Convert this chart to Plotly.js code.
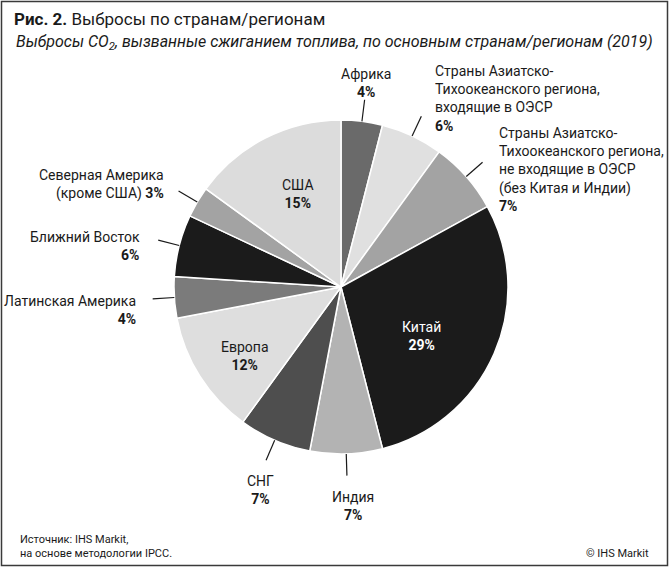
<!DOCTYPE html>
<html>
<head>
<meta charset="utf-8">
<script src="https://cdn.plot.ly/plotly-3.0.1.min.js"></script>
<style>
  html, body { margin: 0; padding: 0; background: #fff; }
  #chart { width: 670px; height: 568px; }
</style>
</head>
<body>
<div id="chart"></div>
<script>
// ---- data ----
const regions = [
  "Африка",
  "Страны Азиатско-Тихоокеанского региона, входящие в ОЭСР",
  "Страны Азиатско-Тихоокеанского региона, не входящие в ОЭСР (без Китая и Индии)",
  "Китай",
  "Индия",
  "СНГ",
  "Европа",
  "Латинская Америка",
  "Ближний Восток",
  "Северная Америка (кроме США)",
  "США"
];
const shares = [4, 6, 7, 29, 7, 7, 12, 4, 6, 3, 15];
const labelTexts = [
  "Африка",
  "Страны Азиатско-<br>Тихоокеанского региона,<br>входящие в ОЭСР",
  "Страны Азиатско-<br>Тихоокеанского региона,<br>не входящие в ОЭСР<br>(без Китая и Индии)",
  "Китай",
  "Индия",
  "СНГ",
  "Европа",
  "Латинская Америка",
  "Ближний Восток",
  "Северная Америка<br>(кроме США)",
  "США"
];
const sliceColors = ["#6a6a6a", "#e0e0e0", "#a3a3a3", "#1b1b1b", "#b3b3b3", "#4e4e4e",
                     "#dedede", "#7b7b7b", "#1b1b1b", "#a3a3a3", "#dcdcdc"];

// ---- layout config (positions in px, not data) ----
const W = 670, H = 568;
const CX = 341, CY = 287, R = 167;
// label block: [x, yCenter, xanchor, pct on same line, text color, leader line]
const labelCfg = [
  {x: 366, y: 83,  xa: "center", sameLine: false, color: "#1a1a1a", leader: true},
  {x: 433, y: 98,  xa: "left",   sameLine: false, color: "#1a1a1a", leader: true},
  {x: 497, y: 170, xa: "left",   sameLine: false, color: "#1a1a1a", leader: true},
  {x: 422, y: 336, xa: "center", sameLine: false, color: "#ffffff", leader: false},
  {x: 353, y: 506, xa: "center", sameLine: false, color: "#1a1a1a", leader: true},
  {x: 260, y: 490, xa: "center", sameLine: false, color: "#1a1a1a", leader: true},
  {x: 245, y: 356, xa: "center", sameLine: false, color: "#1a1a1a", leader: false},
  {x: 138, y: 310, xa: "right",  sameLine: false, color: "#1a1a1a", leader: true},
  {x: 142, y: 246, xa: "right",  sameLine: false, color: "#1a1a1a", leader: true},
  {x: 166, y: 184, xa: "right",  sameLine: true,  color: "#1a1a1a", leader: true},
  {x: 298, y: 194, xa: "center", sameLine: false, color: "#1a1a1a", leader: false}
];

const FONT = "Roboto, 'Liberation Sans', Arial, sans-serif";
const px2x = v => v / W;
const px2y = v => 1 - v / H;

const annotations = [];
const shapes = [];

const total = shares.reduce((a, b) => a + b, 0);
let cum = 0;
shares.forEach((v, i) => {
  const mid = (cum + v / 2) / total * 2 * Math.PI;
  cum += v;
  const c = labelCfg[i];
  const pct = "<b>" + v + "%</b>";
  const text = labelTexts[i] + (c.sameLine ? " " : "<br>") + pct;
  annotations.push({
    xref: "paper", yref: "paper",
    x: px2x(c.x), y: px2y(c.y),
    xanchor: c.xa, yanchor: "middle",
    align: c.xa === "center" ? "center" : c.xa,
    text: text, showarrow: false,
    font: {family: FONT, size: 14, color: c.color}
  });
  if (c.leader) {
    const r0 = R * 1.0, r1 = R * 1.13;
    shapes.push({
      type: "line", xref: "paper", yref: "paper",
      x0: px2x(CX + r0 * Math.sin(mid)), y0: px2y(CY - r0 * Math.cos(mid)),
      x1: px2x(CX + r1 * Math.sin(mid)), y1: px2y(CY - r1 * Math.cos(mid)),
      line: {color: "#1a1a1a", width: 1.2}
    });
  }
});

// header / footer
annotations.push(
  {xref: "paper", yref: "paper", x: px2x(14), y: px2y(43), xanchor: "left", yanchor: "middle",
   text: "<i>Выбросы CO<sub>2</sub>, вызванные сжиганием топлива, по основным странам/регионам (2019)</i>",
   showarrow: false, font: {family: FONT, size: 16, color: "#1a1a1a"}},
  {xref: "paper", yref: "paper", x: px2x(18), y: px2y(546), xanchor: "left", yanchor: "middle", align: "left",
   text: "Источник: IHS Markit,<br>на основе методологии IPCC.",
   showarrow: false, font: {family: FONT, size: 11, color: "#1a1a1a"}},
  {xref: "paper", yref: "paper", x: px2x(651), y: px2y(553), xanchor: "right", yanchor: "middle",
   text: "© IHS Markit", showarrow: false, font: {family: FONT, size: 11, color: "#1a1a1a"}}
);

// frame
shapes.push({type: "rect", xref: "paper", yref: "paper",
  x0: px2x(1.5), x1: px2x(667.5), y0: px2y(565.5), y1: px2y(1.5),
  line: {color: "#3a3a3a", width: 1.5}});

const trace = {
  type: "pie",
  labels: regions,
  values: shares,
  sort: false,
  direction: "clockwise",
  rotation: 0,
  textinfo: "none",
  hoverinfo: "label+percent",
  marker: {colors: sliceColors, line: {color: "#ffffff", width: 1.5}},
  domain: {x: [px2x(CX - R), px2x(CX + R)], y: [px2y(CY + R), px2y(CY - R)]},
  showlegend: false
};

const layout = {
  width: W, height: H,
  margin: {l: 0, r: 0, t: 0, b: 0},
  paper_bgcolor: "#ffffff",
  showlegend: false,
  title: {
    text: "<b>Рис. 2.</b> Выбросы по странам/регионам",
    x: px2x(14), xanchor: "left", xref: "paper",
    y: px2y(19), yanchor: "middle", yref: "paper",
    font: {family: FONT, size: 17, color: "#1a1a1a"}
  },
  annotations: annotations,
  shapes: shapes
};

Plotly.newPlot("chart", [trace], layout, {displayModeBar: false, staticPlot: true});
</script>
</body>
</html>
